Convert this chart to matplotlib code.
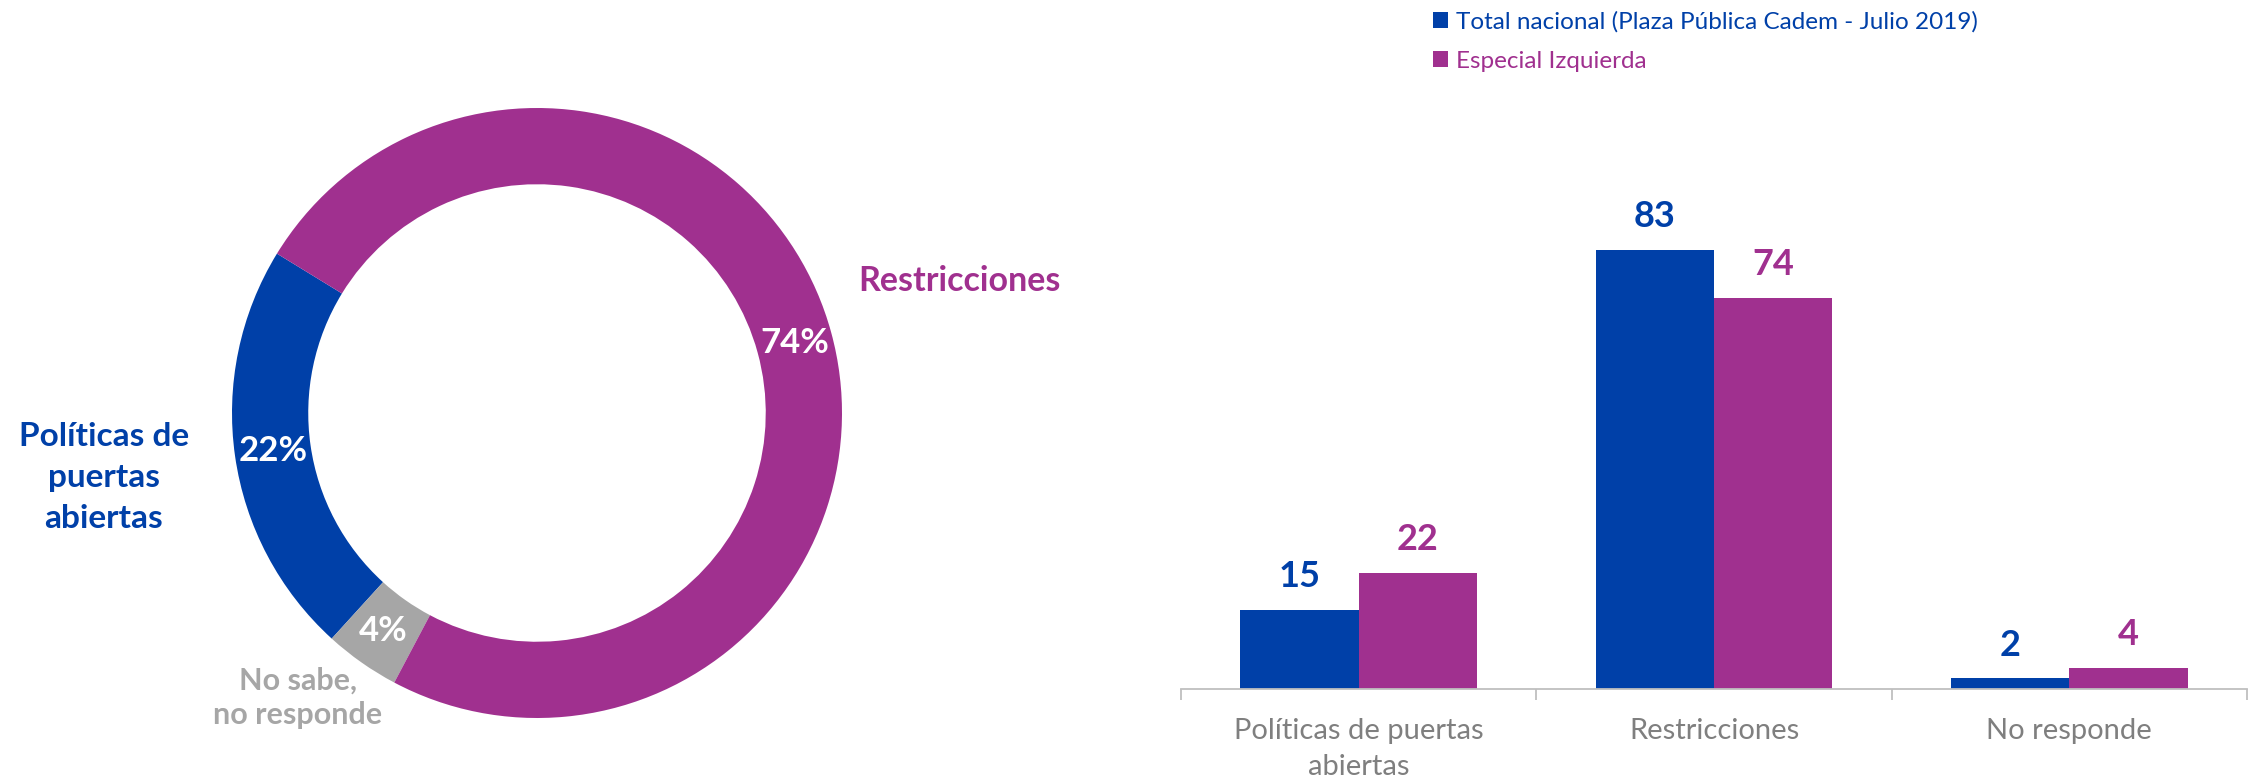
import matplotlib
matplotlib.use("Agg")
import matplotlib.pyplot as plt
import numpy as np

# ---- data ----
donut_labels = ["Políticas de\npuertas\nabiertas", "No sabe,\nno responde", "Restricciones"]
donut_values = [22, 4, 74]
donut_colors = ["#0040A8", "#A6A6A6", "#A0308F"]

bar_categories = ["Políticas de puertas\nabiertas", "Restricciones", "No responde"]
series_names = ["Total nacional (Plaza Pública Cadem - Julio 2019)", "Especial Izquierda"]
total_nacional = [15, 83, 2]
especial_izquierda = [22, 74, 4]
series_colors = ["#0040A8", "#A0308F"]

FONT = "Lato"
plt.rcParams['font.family'] = [FONT, 'DejaVu Sans']

W, H = 2259, 782
fig = plt.figure(figsize=(W / 100, H / 100), dpi=100)

# ---- donut ----
cx, cy, R = 537, 413, 305
axp = fig.add_axes([(cx - R) / W, (H - cy - R) / H, 2 * R / W, 2 * R / H])
wedges, _, autotexts = axp.pie(
    donut_values, colors=donut_colors, startangle=148.5, counterclock=True,
    wedgeprops=dict(width=0.25, linewidth=0),
    autopct=lambda p: f"{p:.0f}%", pctdistance=0.875,
    textprops=dict(color="white", fontsize=25, fontweight="bold"))
axp.set_xlim(-1, 1)
axp.set_ylim(-1, 1)
axp.set_aspect("equal")

label_pos = [(-1.42, -0.21), (-0.785, -0.934), (1.384, 0.433)]
label_sizes = [24, 22, 24.5]
label_ls = [1.5, 1.3, 1.3]
for lab, (lx, ly), col, fs, ls in zip(donut_labels, label_pos, donut_colors, label_sizes, label_ls):
    axp.text(lx, ly, lab, ha="center", va="center", color=col,
             fontsize=fs, fontweight="bold", linespacing=ls)

# ---- bars ----
x0, x1 = 1181, 2247
base = 689
ymax = 90
ppu = 5.29
top = base - ymax * ppu
axb = fig.add_axes([x0 / W, (H - base) / H, (x1 - x0) / W, (base - top) / H])
x = np.arange(len(bar_categories))
bw = 1 / 3
b1 = axb.bar(x - bw / 2, total_nacional, bw, color=series_colors[0], label=series_names[0])
b2 = axb.bar(x + bw / 2, especial_izquierda, bw, color=series_colors[1], label=series_names[1])
for bars, vals, col in [(b1, total_nacional, series_colors[0]), (b2, especial_izquierda, series_colors[1])]:
    for r, v in zip(bars, vals):
        axb.annotate(f"{v}", (r.get_x() + r.get_width() / 2, v), xytext=(0, 12),
                     textcoords="offset points", ha="center", va="bottom",
                     color=col, fontsize=26, fontweight="bold")

axb.set_xlim(-0.5, 2.5)
axb.set_ylim(0, ymax)
for s in ["top", "right", "left"]:
    axb.spines[s].set_visible(False)
axb.spines["bottom"].set_color("#BFBFBF")
axb.spines["bottom"].set_linewidth(1.3)
axb.set_yticks([])
axb.set_xticks(x)
axb.set_xticklabels(bar_categories, fontsize=21, color="#7F7F7F", linespacing=1.45)
axb.tick_params(axis="x", which="major", length=0, pad=21)
axb.set_xticks(np.arange(-0.5, 3, 1), minor=True)
axb.tick_params(axis="x", which="minor", length=8, width=1.3, color="#BFBFBF", direction="out")

leg = fig.legend(handles=[b1, b2], loc="upper left", bbox_to_anchor=(1422 / W, 1.0),
                 frameon=False, fontsize=17.5, handlelength=0.6, handleheight=0.6,
                 handletextpad=0.35, labelspacing=0.75, labelcolor=series_colors,
                 borderaxespad=0.05)

fig.savefig("out.png", dpi=100, facecolor="white")
